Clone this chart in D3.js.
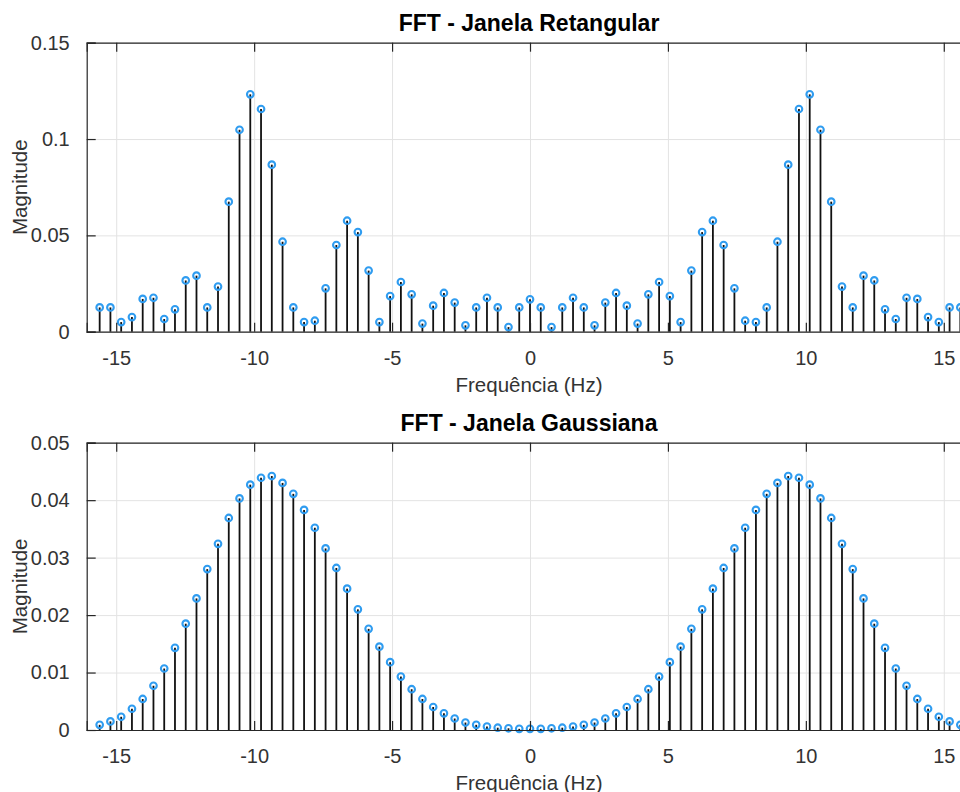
<!DOCTYPE html>
<html>
<head>
<meta charset="utf-8">
<script src="https://cdn.jsdelivr.net/npm/d3@7"></script>
<style>
  body { margin: 0; background: #fff; }
  svg { display: block; font-family: "Liberation Sans", Arial, sans-serif; }
  .tick text { fill: #333; font-size: 20px; }
  .grid line { stroke: #e3e3e3; stroke-width: 1; }
  .grid path { display: none; }
</style>
</head>
<body>
<div id="chart"></div>
<script>
// frequencias (Hz)
const freqs = [-15.6, -15.21, -14.82, -14.43, -14.04, -13.65, -13.26, -12.87, -12.48, -12.09,
  -11.7, -11.31, -10.92, -10.53, -10.14, -9.75, -9.36, -8.97, -8.58, -8.19,
  -7.8, -7.41, -7.02, -6.63, -6.24, -5.85, -5.46, -5.07, -4.68, -4.29,
  -3.9, -3.51, -3.12, -2.73, -2.34, -1.95, -1.56, -1.17, -0.78, -0.39,
  0,
  0.39, 0.78, 1.17, 1.56, 1.95, 2.34, 2.73, 3.12, 3.51, 3.9,
  4.29, 4.68, 5.07, 5.46, 5.85, 6.24, 6.63, 7.02, 7.41, 7.8,
  8.19, 8.58, 8.97, 9.36, 9.75, 10.14, 10.53, 10.92, 11.31, 11.7,
  12.09, 12.48, 12.87, 13.26, 13.65, 14.04, 14.43, 14.82, 15.21, 15.6]

const magRet = [0.0126, 0.0126, 0.0050, 0.0076, 0.0170, 0.0176, 0.0066, 0.0116, 0.0266, 0.0291,
  0.0126, 0.0234, 0.0675, 0.1048, 0.1232, 0.1156, 0.0867, 0.0467, 0.0126, 0.0050,
  0.0057, 0.0225, 0.0450, 0.0576, 0.0517, 0.0317, 0.0050, 0.0185, 0.0258, 0.0194,
  0.0042, 0.0135, 0.0201, 0.0151, 0.0033, 0.0126, 0.0176, 0.0126, 0.0024, 0.0126,
  0.0168,
  0.0126, 0.0024, 0.0126, 0.0176, 0.0126, 0.0033, 0.0151, 0.0201, 0.0135, 0.0042,
  0.0194, 0.0258, 0.0185, 0.0050, 0.0317, 0.0517, 0.0576, 0.0450, 0.0225, 0.0057,
  0.0050, 0.0126, 0.0467, 0.0867, 0.1156, 0.1232, 0.1048, 0.0675, 0.0234, 0.0126,
  0.0291, 0.0266, 0.0116, 0.0066, 0.0176, 0.0170, 0.0076, 0.0050, 0.0126, 0.0126]

const magGauss = [0.0009, 0.0015, 0.0023, 0.0037, 0.0054, 0.0077, 0.0107, 0.0143, 0.0185, 0.0229,
  0.0280, 0.0324, 0.0369, 0.0403, 0.0427, 0.0439, 0.0442, 0.0430, 0.0411, 0.0383,
  0.0352, 0.0316, 0.0282, 0.0246, 0.0210, 0.0176, 0.0145, 0.0118, 0.0093, 0.0071,
  0.0054, 0.0040, 0.0029, 0.0020, 0.0013, 0.0009, 0.0006, 0.0004, 0.0003, 0.0002,
  0.0002,
  0.0002, 0.0003, 0.0004, 0.0006, 0.0009, 0.0013, 0.0020, 0.0029, 0.0040, 0.0054,
  0.0071, 0.0093, 0.0118, 0.0145, 0.0176, 0.0210, 0.0246, 0.0282, 0.0316, 0.0352,
  0.0383, 0.0411, 0.0430, 0.0442, 0.0439, 0.0427, 0.0403, 0.0369, 0.0324, 0.0280,
  0.0229, 0.0185, 0.0143, 0.0107, 0.0077, 0.0054, 0.0037, 0.0023, 0.0015, 0.0009]

const xTicks = [-15, -10, -5, 0, 5, 10, 15]
const yTicksRet = [0, 0.05, 0.1, 0.15]
const yTicksGauss = [0, 0.01, 0.02, 0.03, 0.04, 0.05]

const W = 960, H = 792
const left = 86.7, right = 973.3, tickLen = 9
const markerColor = "#2f9cf0"

const svg = d3.select("#chart").append("svg")
  .attr("width", W)
  .attr("height", H)

const x = d3.scaleLinear().domain([-16.07, 16.07]).range([left, right])

function panel(top, bottom, mags, yMax, yTicks, title) {
  const y = d3.scaleLinear().domain([0, yMax]).range([bottom, top])
  const g = svg.append("g")

  // grid
  g.append("g").attr("class", "grid")
    .attr("transform", "translate(0," + bottom + ")")
    .call(d3.axisBottom(x).tickValues(xTicks).tickSize(-(bottom - top)).tickFormat(""))
  g.append("g").attr("class", "grid")
    .attr("transform", "translate(" + left + ",0)")
    .call(d3.axisLeft(y).tickValues(yTicks).tickSize(-(right - left)).tickFormat(""))

  // stems
  g.selectAll(".stem")
    .data(mags)
    .enter().append("line")
    .attr("class", "stem")
    .attr("x1", (d, i) => x(freqs[i]))
    .attr("x2", (d, i) => x(freqs[i]))
    .attr("y1", y(0))
    .attr("y2", (d) => y(d))
    .style("stroke", "#111")
    .style("stroke-width", 1.8)

  g.selectAll(".mark")
    .data(mags)
    .enter().append("circle")
    .attr("class", "mark")
    .attr("cx", (d, i) => x(freqs[i]))
    .attr("cy", (d) => y(d))
    .attr("r", 3.3)
    .style("fill", "none")
    .style("stroke", markerColor)
    .style("stroke-width", 2.1)

  // axes
  const xb = g.append("g")
    .attr("transform", "translate(0," + bottom + ")")
    .call(d3.axisBottom(x).tickValues(xTicks).tickSize(-tickLen).tickPadding(19).tickFormat((d) => String(d)))
  const xt = g.append("g")
    .attr("transform", "translate(0," + top + ")")
    .call(d3.axisTop(x).tickValues(xTicks).tickSize(-tickLen).tickFormat(""))
  const yl = g.append("g")
    .attr("transform", "translate(" + left + ",0)")
    .call(d3.axisLeft(y).tickValues(yTicks).tickSize(-tickLen).tickPadding(17).tickFormat((d) => String(d)))

  ;[xb, xt, yl].forEach((a) => {
    a.select(".domain").style("stroke", "#262626").style("stroke-width", 1.2)
    a.selectAll(".tick line").style("stroke", "#262626").style("stroke-width", 1.2)
  })
  xb.selectAll(".tick text").attr("dy", "0.71em")

  g.append("text")
    .attr("x", 529)
    .attr("y", top - 11.5)
    .attr("text-anchor", "middle")
    .style("font-size", "23px")
    .style("font-weight", "bold")
    .style("fill", "#000")
    .text(title)

  g.append("text")
    .attr("x", 529)
    .attr("y", bottom + 60)
    .attr("text-anchor", "middle")
    .style("font-size", "20.5px")
    .style("fill", "#333")
    .text("Frequência (Hz)")

  g.append("text")
    .attr("transform", "translate(27," + (top + bottom) / 2 + ") rotate(-90)")
    .attr("text-anchor", "middle")
    .style("font-size", "20.5px")
    .style("fill", "#333")
    .text("Magnitude")
}

panel(42.7, 331.7, magRet, 0.15, yTicksRet, "FFT - Janela Retangular")
panel(442.7, 730, magGauss, 0.05, yTicksGauss, "FFT - Janela Gaussiana")
</script>
</body>
</html>
